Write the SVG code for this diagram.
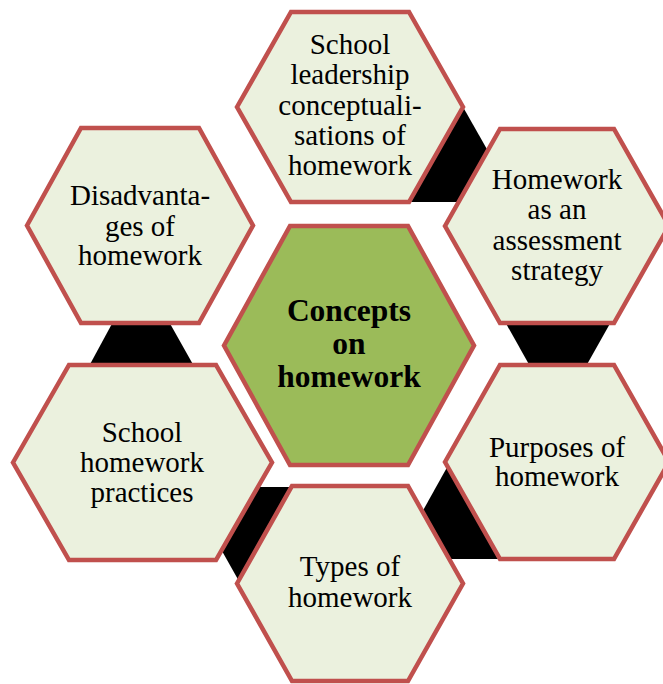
<svg xmlns="http://www.w3.org/2000/svg" width="663" height="684" viewBox="0 0 663 684">
<style>
.hex{fill:#EBF1DE;stroke:#C0504D;stroke-width:4.5;stroke-linejoin:miter}
.hexc{fill:#9BBB59;stroke:#C0504D;stroke-width:4.5}
.con{fill:#000000}
text{font-family:"Liberation Serif","Times New Roman",serif;font-size:29px;fill:#000;text-anchor:middle}
.b{font-weight:bold;font-size:31.5px}
</style>
<rect width="663" height="684" fill="#ffffff"/>
<g id="connectors">
<polygon class="con" points="455,107 463,107 517,202 405,202"/>
<polygon class="con" points="504,320 612,320 585,368 531,368"/>
<polygon class="con" points="450,462 460,462 510,559 396,559"/>
<polygon class="con" points="240,583 250,583 300,487 186,487"/>
<polygon class="con" points="114,320 168,320 195,368 88,368"/>
</g>
<g id="node-leadership">
<polygon class="hex" points="237,107 291,12 409,12 463,107 409,202 291,202"/>
<text x="350" y="54">School</text>
<text x="350" y="84">leadership</text>
<text x="350" y="115">conceptuali-</text>
<text x="350" y="145">sations of</text>
<text x="350" y="175">homework</text>
</g>
<g id="node-assessment">
<polygon class="hex" points="445,226 500,129 614,129 669,226 614,323 500,323"/>
<text x="557" y="189">Homework</text>
<text x="557" y="219">as an</text>
<text x="557" y="250">assessment</text>
<text x="557" y="280">strategy</text>
</g>
<g id="node-disadvantages">
<polygon class="hex" points="27,225.5 81,128 199,128 253,225.5 199,323 81,323"/>
<text x="140" y="205">Disadvanta-</text>
<text x="140" y="236">ges of</text>
<text x="140" y="265">homework</text>
</g>
<g id="node-practices">
<polygon class="hex" points="13,462.5 69,365 216,365 272,462.5 216,560 69,560"/>
<text x="142" y="442">School</text>
<text x="142" y="472">homework</text>
<text x="142" y="502">practices</text>
</g>
<g id="node-purposes">
<polygon class="hex" points="445,462 500,365 614,365 669,462 614,559 500,559"/>
<text x="557" y="457">Purposes of</text>
<text x="557" y="486">homework</text>
</g>
<g id="node-types">
<polygon class="hex" points="237,583.5 292,486 408,486 463,583.5 408,681 292,681"/>
<text x="350" y="576">Types of</text>
<text x="350" y="607">homework</text>
</g>
<g id="node-center">
<polygon class="hexc" points="224,345.5 290,226 408,226 474,345.5 408,465 290,465"/>
<text class="b" x="349" y="321">Concepts</text>
<text class="b" x="349" y="354">on</text>
<text class="b" x="349" y="387">homework</text>
</g>
</svg>
